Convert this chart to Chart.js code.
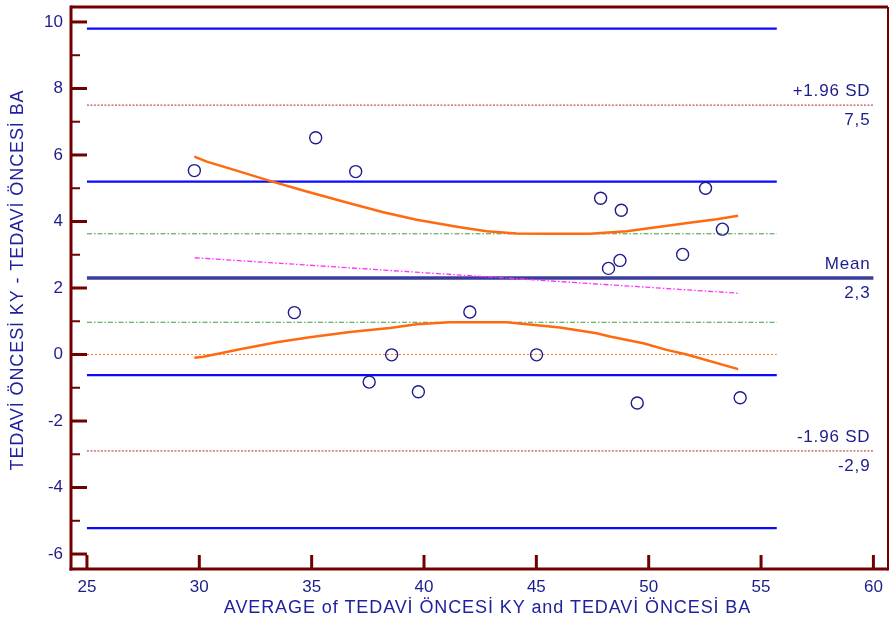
<!DOCTYPE html>
<html>
<head>
<meta charset="utf-8">
<script src="https://cdn.jsdelivr.net/npm/chart.js@4.4.0/dist/chart.umd.min.js"></script>
<style>body{margin:0;background:#fff}</style>
</head>
<body>
<canvas id="baPlot" width="890" height="631"></canvas>
<script>
// average of the two methods (x) and their difference (y)
var avgValues  = [29.78, 35.18, 36.96, 34.23, 42.04, 38.56, 45.01, 37.56, 39.75, 47.86, 48.78, 52.53, 53.28, 51.51, 48.72, 48.21, 49.49, 54.07];
var diffValues = [5.53, 6.52, 5.50, 1.26, 1.28, -0.01, -0.01, -0.83, -1.12, 4.70, 4.34, 5.00, 3.77, 3.01, 2.83, 2.59, -1.46, -1.30];

// reference lines
var refNames  = ['+1.96 SD', 'Mean', '-1.96 SD'];
var refValues = [7.5, 2.3, -2.9];
var refText   = ['7,5', '2,3', '-2,9'];
var loaCI  = [9.8, 5.2, -0.62, -5.22];
var meanCI = [3.63, 0.97];
var zeroLine = 0;
var lineStart = 25, lineEnd = 60, ciEnd = 55.7;

// regression of differences
var regrX = [29.8, 54.06];
var regrY = [2.91, 1.84];

// confidence curves of regression
var upperX = [29.78, 30.33, 31.81, 33.14, 34.78, 36.56, 38.19, 39.67, 41.6, 42.79, 44.12, 45.6, 47.39, 49.02, 50.5, 51.98, 53.02, 53.98];
var upperY = [5.95, 5.80, 5.50, 5.22, 4.90, 4.57, 4.28, 4.05, 3.83, 3.71, 3.64, 3.63, 3.63, 3.71, 3.84, 3.98, 4.07, 4.17];
var lowerX = [29.78, 30.18, 31.81, 33.44, 34.92, 36.7, 38.48, 39.67, 41.15, 43.68, 45.6, 46.05, 47.68, 48.27, 49.76, 50.8, 51.69, 53.98];
var lowerY = [-0.10, -0.07, 0.16, 0.37, 0.52, 0.68, 0.80, 0.91, 0.97, 0.97, 0.84, 0.81, 0.64, 0.54, 0.34, 0.14, 0.0, -0.44];

var xTicks = [25, 30, 35, 40, 45, 50, 55, 60];
var yTicks = [-6, -4, -2, 0, 2, 4, 6, 8, 10];
var yMinor = [-5, -3, -1, 1, 3, 5, 7, 9];

var navy = '#1c1c8c';
var frameColor = '#720000';
var fontFam = 'Arial, "Liberation Sans", sans-serif';

function pts(xs, ys) { return xs.map(function (x, i) { return {x: x, y: ys[i]}; }); }
function hline(v, x0, x1) { return [{x: x0, y: v}, {x: x1, y: v}]; }
function lineSet(data, color, width, dash, order) {
  return {type: 'line', data: data, borderColor: color, borderWidth: width, borderDash: dash || [],
    pointRadius: 0, fill: false, tension: 0, order: order};
}

var datasets = [{
  type: 'scatter', data: pts(avgValues, diffValues), pointRadius: 6, pointHoverRadius: 6,
  borderColor: navy, backgroundColor: 'rgba(255,255,255,0)', borderWidth: 1.4, order: 0
}];
loaCI.forEach(function (v) { datasets.push(lineSet(hline(v, lineStart, ciEnd), '#0a0aff', 2.4, [], 5)); });
meanCI.forEach(function (v) { datasets.push(lineSet(hline(v, lineStart, ciEnd), '#3a9a3a', 1, [5, 2, 1.5, 2], 6)); });
datasets.push(lineSet(hline(zeroLine, lineStart, ciEnd), '#ff7020', 1, [2, 2], 6));
datasets.push(lineSet(hline(refValues[0], lineStart, lineEnd), '#b02828', 1, [2, 1.5], 6));
datasets.push(lineSet(hline(refValues[2], lineStart, lineEnd), '#b02828', 1, [2, 1.5], 6));
datasets.push(lineSet(hline(refValues[1], lineStart, lineEnd), '#3c3c9c', 3.5, [], 4));
datasets.push(lineSet(pts(regrX, regrY), '#ff30ff', 1.3, [5, 2, 1.5, 2], 3));
datasets.push(lineSet(pts(upperX, upperY), '#ff6a10', 2.5, [], 2));
datasets.push(lineSet(pts(lowerX, lowerY), '#ff6a10', 2.5, [], 2));

var decorPlugin = {
  id: 'decor',
  afterDatasetsDraw: function (chart) {
    var ctx = chart.ctx, a = chart.chartArea, xs = chart.scales.x, ys = chart.scales.y;
    ctx.save();
    ctx.strokeStyle = frameColor;
    function seg(x0, y0, x1, y1) { ctx.beginPath(); ctx.moveTo(x0, y0); ctx.lineTo(x1, y1); ctx.stroke(); }
    ctx.lineWidth = 3;
    yTicks.forEach(function (v) { var p = ys.getPixelForValue(v); seg(a.left, p, a.left + 16, p); });
    xTicks.forEach(function (v) { var p = xs.getPixelForValue(v); seg(p, a.bottom, p, a.bottom - 14); });
    ctx.lineWidth = 2;
    yMinor.forEach(function (v) { var p = ys.getPixelForValue(v); seg(a.left, p, a.left + 9, p); });
    ctx.lineWidth = 3;
    seg(a.left, a.top, a.right, a.top);
    seg(a.left, a.top - 1.5, a.left, a.bottom + 1.5);
    seg(a.left - 1.5, a.bottom, a.right, a.bottom);
    ctx.lineWidth = 2;
    seg(a.right, a.top, a.right, a.bottom + 1.5);

    // reference labels
    ctx.fillStyle = navy;
    ctx.font = '17px ' + fontFam;
    ctx.letterSpacing = '0.8px';
    ctx.textAlign = 'right';
    ctx.textBaseline = 'middle';
    var tx = xs.getPixelForValue(lineEnd) - 3;
    refValues.forEach(function (v, i) {
      var p = ys.getPixelForValue(v);
      ctx.fillText(refNames[i], tx, p - 14);
      ctx.fillText(refText[i], tx, p + 15);
    });

    // axis titles
    ctx.fillStyle = '#2020a0';
    ctx.font = '18px ' + fontFam;
    ctx.letterSpacing = '0.9px';
    ctx.textAlign = 'center';
    ctx.fillText('AVERAGE of TEDAVİ ÖNCESİ KY and TEDAVİ ÖNCESİ BA', (a.left + a.right) / 2 + 8, 608);
    ctx.translate(18, (a.top + a.bottom) / 2 - 8);
    ctx.rotate(-Math.PI / 2);
    ctx.fillText('TEDAVİ ÖNCESİ KY - TEDAVİ ÖNCESİ BA', 0, 0);
    ctx.restore();
  }
};

function noPad() { return {left: 0, top: 0, right: 0, bottom: 0}; }
function zeroPad(s) {
  s.paddingTop = 0; s.paddingBottom = 0; s.paddingLeft = 0; s.paddingRight = 0;
  s.getPadding = noPad;
}

new Chart(document.getElementById('baPlot'), {
  type: 'scatter',
  data: {datasets: datasets},
  options: {
    responsive: false,
    animation: false,
    layout: {autoPadding: false, padding: {top: 7, right: 2, left: 0, bottom: 0}},
    scales: {
      x: {
        type: 'linear', min: 24.29, max: 60.65,
        afterBuildTicks: function (s) { s.ticks = xTicks.map(function (v) { return {value: v}; }); },
        afterFit: function (s) { s.height = 62; zeroPad(s); },
        grid: {display: false, drawTicks: false},
        border: {display: false},
        ticks: {color: navy, font: {size: 17, family: fontFam}, padding: 8, maxRotation: 0, autoSkip: false}
      },
      y: {
        type: 'linear', min: -6.45, max: 10.45,
        afterBuildTicks: function (s) { s.ticks = yTicks.map(function (v) { return {value: v}; }); },
        afterFit: function (s) { s.width = 71; zeroPad(s); },
        grid: {display: false, drawTicks: false},
        border: {display: false},
        ticks: {color: navy, font: {size: 17, family: fontFam}, padding: 8, autoSkip: false}
      }
    },
    plugins: {legend: {display: false}, tooltip: {enabled: false}}
  },
  plugins: [decorPlugin]
});
</script>
</body>
</html>
